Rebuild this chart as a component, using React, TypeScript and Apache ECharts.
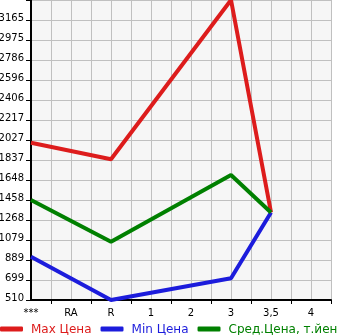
import React, { useEffect, useRef } from "react";
import * as echarts from "echarts";

const categories = ["***", "RA", "R", "1", "2", "3", "3,5", "4"];
const maxPrice = [2002, null, 1845, null, null, 3355, 1340, null];
const minPrice = [921, null, 510, null, null, 716, 1340, null];
const avgPrice = [1458, null, 1062, null, null, 1695, 1340, null];
const seriesNames = ["Max Цена", "Min Цена", "Сред.Цена, т.йен"];
const seriesColors = ["#dd1c1c", "#1c1cdc", "#008000"];
const yTickLabels = [
  "510", "699", "889", "1079", "1268", "1458", "1648", "1837",
  "2027", "2217", "2406", "2596", "2786", "2975", "3165",
];
const yMin = 510;
const yMax = 3355;
const ySteps = 15;

export default function App() {
  const ref = useRef<HTMLDivElement>(null);
  useEffect(() => {
    if (!ref.current) return;
    const chart = echarts.init(ref.current, null, { renderer: "svg" });
    const cats = categories.flatMap((c) => [c, ""]);
    const spread = (arr: (number | null)[]) =>
      arr.flatMap((v) => [v == null ? null : v - yMin, null]);
    const allSeries = [maxPrice, minPrice, avgPrice];
    const font = "DejaVu Sans";
    chart.setOption({
      animation: false,
      grid: {
        left: 31,
        right: 14,
        top: 0,
        bottom: 35,
        containLabel: false,
        outerBoundsMode: "none",
        show: true,
        backgroundColor: "#f6f6f6",
        borderWidth: 0,
      },
      legend: {
        left: 0,
        top: 320,
        padding: [3, 0, 0, 0],
        itemWidth: 23,
        itemHeight: 5,
        itemGap: 9,
        icon: "roundRect",
        textStyle: { fontSize: 12, fontFamily: font, padding: [0, 0, 0, 3] },
        data: seriesNames.map((n, i) => ({
          name: n,
          textStyle: { color: seriesColors[i] },
        })),
      },
      xAxis: {
        type: "category",
        boundaryGap: false,
        data: cats,
        axisLine: { lineStyle: { color: "#000", width: 2 } },
        axisTick: {
          interval: (i: number) => i % 2 === 1,
          length: 4,
          lineStyle: { color: "#000" },
        },
        axisLabel: {
          interval: (i: number) => i % 2 === 0,
          fontSize: 10,
          fontFamily: font,
          color: "#000",
          margin: 7,
        },
        splitLine: { show: true, interval: 0, lineStyle: { color: "#c0c0c0" } },
      },
      yAxis: {
        type: "value",
        min: 0,
        max: yMax - yMin,
        interval: (yMax - yMin) / ySteps,
        axisLine: { show: true, lineStyle: { color: "#000", width: 2 } },
        axisTick: { show: true, length: 5, lineStyle: { color: "#000" } },
        axisLabel: {
          formatter: (_v: number, i: number) => yTickLabels[i] ?? "",
          fontSize: 10,
          fontFamily: font,
          color: "#000",
          margin: 7,
          verticalAlign: "bottom",
          lineHeight: 6,
        },
        splitLine: { show: true, lineStyle: { color: "#c0c0c0" } },
      },
      series: allSeries.map((arr, i) => ({
        name: seriesNames[i],
        type: "line",
        data: spread(arr),
        connectNulls: true,
        symbol: "none",
        color: seriesColors[i],
        lineStyle: { width: 4, color: seriesColors[i] },
      })),
    });
    return () => chart.dispose();
  }, []);
  return (
    <div
      ref={ref}
      style={{ position: "fixed", left: 0, top: 0, width: 345, height: 335 }}
    />
  );
}
